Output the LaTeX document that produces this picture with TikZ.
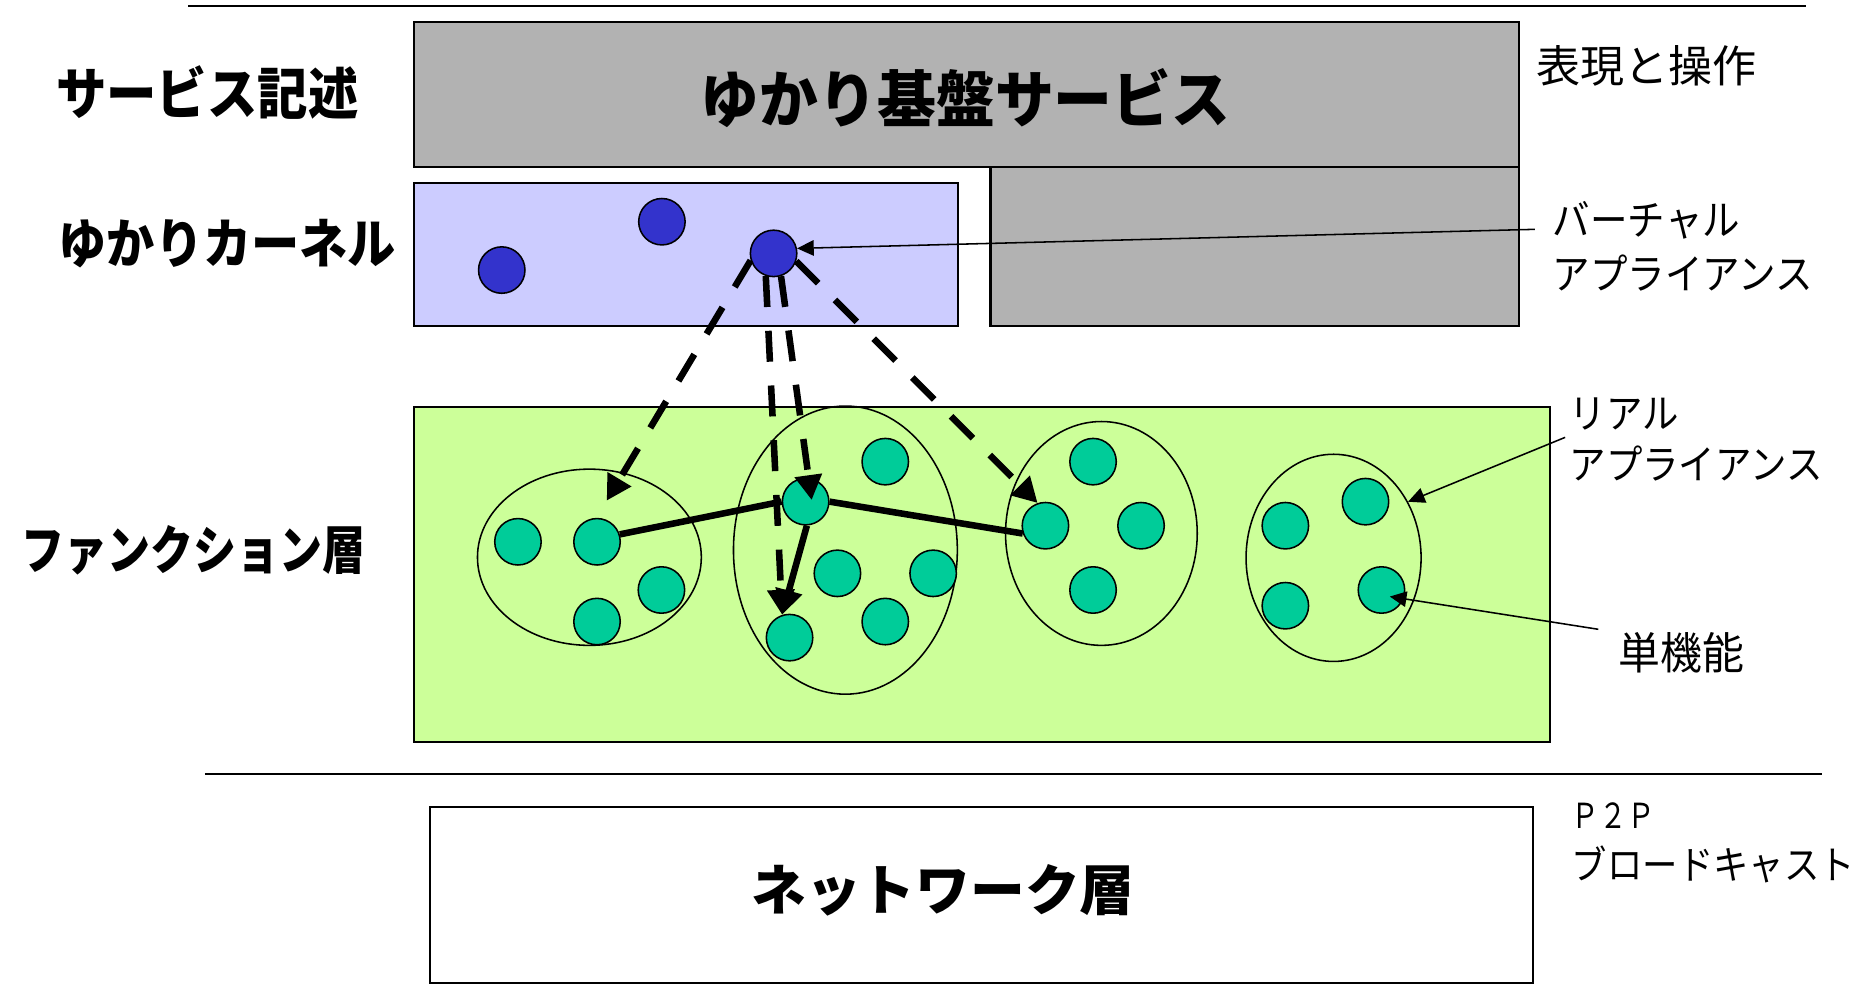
\documentclass[tikz,border=0pt]{standalone}
\usepackage{fontspec}
\setmainfont{Noto Sans CJK JP}
\newfontfamily\jpS{Noto Sans CJK JP}[FakeStretch=0.95]
\newfontfamily\jpN{Noto Sans CJK JP}[FakeStretch=0.9]
\newfontfamily\jpC{Noto Sans CJK JP}[FakeStretch=0.82]
\newfontfamily\jpW{Noto Sans CJK JP}[FakeStretch=1.0]
\newfontfamily\jpX{Noto Sans CJK JP}[FakeStretch=0.8]
\usetikzlibrary{arrows.meta,shapes.geometric,calc}
\definecolor{boxgray}{HTML}{B2B2B2}
\definecolor{kernbg}{HTML}{CCCCFF}
\definecolor{vblue}{HTML}{3333CC}
\definecolor{funcbg}{HTML}{CCFF99}
\definecolor{fgreen}{HTML}{00CC99}
\begin{document}
\begin{tikzpicture}[x=1pt,y=-1pt,
  panel/.style={draw=black, line width=1.7pt, inner sep=0pt, anchor=north west},
  rulel/.style={draw=black, line width=2pt},
  vapp/.style={circle, draw=black, line width=1.3pt, fill=vblue, minimum size=39pt, inner sep=0pt},
  fapp/.style={circle, draw=black, line width=1.3pt, fill=fgreen, minimum size=39pt, inner sep=0pt},
  realapp/.style={ellipse, draw=black, line width=1.3pt, inner sep=0pt},
  lbl/.style={inner sep=0pt, anchor=west},
  dasharrow/.style={line width=5.5pt, dash pattern=on 26pt off 20pt, -{Triangle[length=21pt,width=22pt]}},
  link/.style={line width=5.5pt},
  linkarrow/.style={line width=5.5pt, -{Triangle[length=21pt,width=22pt]}},
  note/.style={line width=1.3pt, -{Triangle[length=14pt,width=13pt]}}
]
\useasboundingbox (0,0) rectangle (1568,831);
\fill[white] (0,0) rectangle (1568,831);

% rules
\draw[rulel] (158,5) -- (1517,5);
\draw[rulel] (172,650) -- (1530,650);

% panels
\node (serv) [panel, fill=boxgray, minimum width=928pt, minimum height=121pt] at (347,18) {};
\node (kern) [panel, fill=kernbg, minimum width=457pt, minimum height=120pt] at (347,153) {};
\node (gray2) [panel, fill=boxgray, minimum width=444pt, minimum height=134pt] at (831,139) {};
\node (funcl) [panel, fill=funcbg, minimum width=954pt, minimum height=281pt] at (347,341) {};
\node (netl) [panel, fill=white, minimum width=927pt, minimum height=148pt] at (360,677) {};

% panel texts
\node (tserv) [inner sep=0pt, font={\jpS\bfseries\fontsize{52}{56}\selectfont}] at (811,82) {ゆかり基盤サービス};
\node (tnet) [inner sep=0pt, font={\jpW\bfseries\fontsize{46}{50}\selectfont}] at (792,748) {ネットワーク層};

% left labels
\node (lserv) [lbl, font={\jpN\bfseries\fontsize{47}{50}\selectfont}] at (47,78) {サービス記述};
\node (lkern) [lbl, font={\jpN\bfseries\fontsize{45}{50}\selectfont}] at (49,205) {ゆかりカーネル};
\node (lfunc) [lbl, font={\jpC\bfseries\fontsize{44}{50}\selectfont}] at (18,462) {ファンクション層};

% right labels
\node (rop) [lbl, font={\jpW\fontsize{37}{40}\selectfont}] at (1290,55) {表現と操作};
\node (rva1) [lbl, font={\jpN\fontsize{35}{40}\selectfont}] at (1304,185) {バーチャル};
\node (rva2) [lbl, font={\jpN\fontsize{35}{40}\selectfont}] at (1304,229.5) {アプライアンス};
\node (rra1) [lbl, font={\jpN\fontsize{34}{40}\selectfont}] at (1318,348) {リアル};
\node (rra2) [lbl, font={\jpN\fontsize{34}{40}\selectfont}] at (1318,389) {アプライアンス};
\node (rsf) [lbl, font={\jpS\fontsize{37}{40}\selectfont}] at (1359,548) {単機能};
\node (rp2p) [lbl, font={\jpX\fontsize{29}{32}\selectfont}] at (1320,685) {Ｐ２Ｐ};
\node (rbc) [lbl, font={\jpN\fontsize{33}{36}\selectfont}] at (1320,726) {ブロードキャスト};

% kernel virtual appliances
\node (v1) [vapp] at (421.4,226.8) {};
\node (v2) [vapp] at (555.9,186.2) {};
\node (v3) [vapp] at (649.7,212.8) {};

% real appliances
\node (E1) [realapp, minimum width=188pt, minimum height=148pt] at (495,468) {};
\node (E2) [realapp, minimum width=188pt, minimum height=242pt] at (710,462) {};
\node (E3) [realapp, minimum width=161pt, minimum height=188pt] at (925,448) {};
\node (E4) [realapp, minimum width=147pt, minimum height=174pt] at (1120,468.5) {};

% single functions
\node (e1a) [fapp] at (435,455) {};
\node (e1b) [fapp] at (501.4,455) {};
\node (e1c) [fapp] at (555.5,495.5) {};
\node (e1d) [fapp] at (501.4,522) {};
\node (e2a) [fapp] at (676.6,421.3) {};
\node (e2b) [fapp] at (743.5,387.7) {};
\node (e2c) [fapp] at (703.3,481.5) {};
\node (e2d) [fapp] at (783.7,481.5) {};
\node (e2e) [fapp] at (743.5,522) {};
\node (e2f) [fapp] at (663.1,535.5) {};
\node (e3a) [fapp] at (878,441.5) {};
\node (e3b) [fapp] at (918,387.7) {};
\node (e3c) [fapp] at (958.3,441.5) {};
\node (e3d) [fapp] at (918,495.5) {};
\node (e4a) [fapp] at (1079.5,441.5) {};
\node (e4b) [fapp] at (1146.8,421.3) {};
\node (e4c) [fapp] at (1079.5,508.7) {};
\node (e4d) [fapp] at (1160.2,495.5) {};

% free ends
\coordinate (t1) at (509.5,420.5);
\coordinate (t2) at (681.7,420);
\coordinate (t3) at ($(e4d)+(7,5.5)$);
\coordinate (s1) at (1289,192.6);
\coordinate (s2) at (1314.5,367.3);
\coordinate (s3) at (1342.3,528.5);

% solid links
\draw[link] (e1b.18) -- (e2a.180);
\draw[link] (e2a.0) -- (e3a.199);
\draw[linkarrow] (e2a.-87) -- (e2f.108);

% dashed mappings
\draw[dasharrow] (v3.197) -- (t1);
\draw[dasharrow] (v3.251) -- (e2f.108);
\draw[dasharrow] (v3.288) -- (t2);
\draw[dasharrow] (v3.341) -- (e3a.109);

% annotations
\draw[note] (s1) -- (v3.12);
\draw[note] (s2) -- (E4.37);
\draw[note] (s3) -- (t3);
\end{tikzpicture}
\end{document}
